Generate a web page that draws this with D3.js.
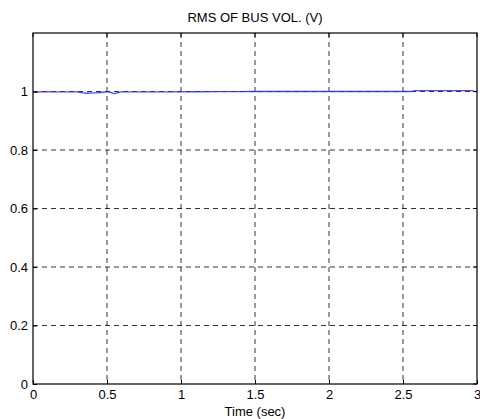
<!DOCTYPE html>
<html><head><meta charset="utf-8">
<script src="https://cdn.jsdelivr.net/npm/d3@7"></script>
<style>body{margin:0;background:#fff}svg{display:block}text{font-family:"Liberation Sans",Arial,sans-serif;fill:#000}</style>
</head><body>
<svg id="c" width="480" height="419"></svg>
<script>
const title = "RMS OF BUS VOL. (V)";
const xLabel = "Time (sec)";
const xTicks = [0, 0.5, 1, 1.5, 2, 2.5, 3];
const yTicks = [0, 0.2, 0.4, 0.6, 0.8, 1];
const timeS = [0, 0.02, 0.05, 0.3, 0.33, 0.36, 0.4, 0.45, 0.5, 0.52, 0.55, 0.58, 0.6, 1.0, 1.5, 2.0, 2.5, 2.56, 2.58, 2.97, 2.98, 3.0];
const voltage = [1.0, 0.997, 0.999, 0.999, 0.996, 0.994, 0.995, 0.996, 0.999, 0.998, 0.993, 0.997, 0.999, 0.999, 1.0, 1.0, 1.0, 1.0, 1.003, 1.003, 1.0, 1.0];

const L = 33, R = 477, T = 33, B = 384;
const FS = "13px";
const svg = d3.select("#c");
const x = d3.scaleLinear().domain([0, 3]).range([L, R]);
const y = d3.scaleLinear().domain([0, 1.2]).range([B, T]);

const g = svg.append("g");
// grid
g.selectAll(".vg").data(xTicks.slice(1, -1)).join("line")
  .attr("x1", d => x(d)).attr("x2", d => x(d)).attr("y1", T).attr("y2", B)
  .attr("stroke", "#000").attr("stroke-width", 0.8).attr("stroke-dasharray", "5,4");
g.selectAll(".hg").data(yTicks.slice(1)).join("line")
  .attr("x1", L).attr("x2", R).attr("y1", d => y(d)).attr("y2", d => y(d))
  .attr("stroke", "#000").attr("stroke-width", 0.8).attr("stroke-dasharray", "5,4");

// line
const line = d3.line().x((d, i) => x(timeS[i])).y(d => y(d)).curve(d3.curveMonotoneX);
svg.append("path").datum(voltage).attr("d", line)
  .attr("fill", "none").attr("stroke", "#2a2aff").attr("stroke-width", 1.3).attr("stroke-opacity", 0.85);

// axes
const xa = d3.axisBottom(x).tickValues(xTicks).tickSize(-4).tickPadding(6).tickFormat(d3.format("~g"));
const ya = d3.axisLeft(y).tickValues(yTicks).tickSize(-4).tickPadding(5).tickFormat(d3.format("~g"));
const gx = svg.append("g").attr("transform", `translate(0,${B})`).call(xa);
const gy = svg.append("g").attr("transform", `translate(${L},0)`).call(ya);
[gx, gy].forEach(a => {
  a.select(".domain").remove();
  a.selectAll("text").style("font-size", FS).style("font-family", '"Liberation Sans",Arial,sans-serif');
  a.selectAll("line").attr("stroke", "#000");
});
// top/right ticks
svg.selectAll(".tt").data(xTicks).join("line").attr("x1", d => x(d)).attr("x2", d => x(d)).attr("y1", T).attr("y2", T + 4).attr("stroke", "#000");
svg.selectAll(".rt").data(yTicks).join("line").attr("x1", R).attr("x2", R - 4).attr("y1", d => y(d)).attr("y2", d => y(d)).attr("stroke", "#000");

svg.append("rect").attr("x", L).attr("y", T).attr("width", R - L).attr("height", B - T)
  .attr("fill", "none").attr("stroke", "#000").attr("stroke-width", 1.2);

svg.append("text").attr("x", (L + R) / 2).attr("y", 22).attr("text-anchor", "middle").style("font-size", FS).text(title);
svg.append("text").attr("x", (L + R) / 2).attr("y", 416).attr("text-anchor", "middle").style("font-size", FS).text(xLabel);
</script>
</body></html>
